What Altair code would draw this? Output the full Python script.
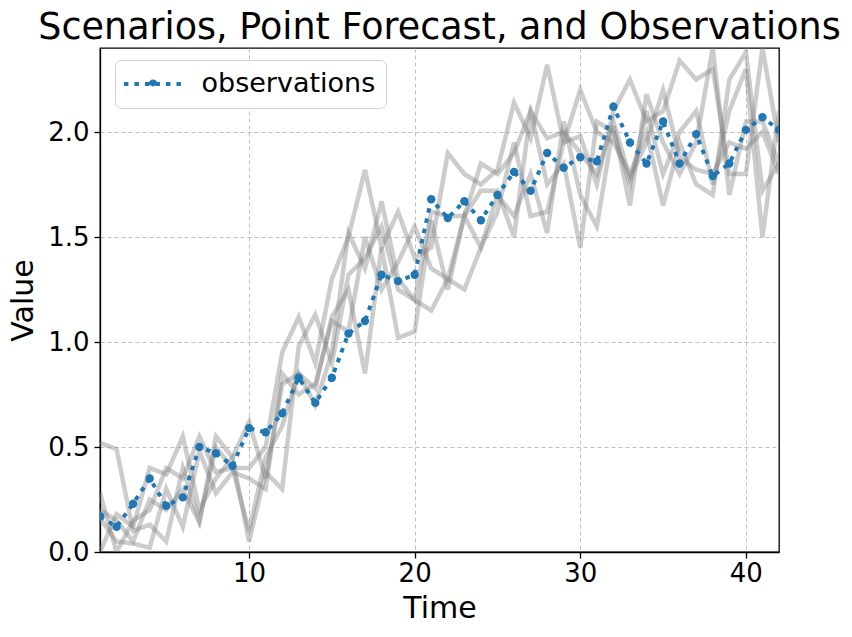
import altair as alt
import pandas as pd

time = list(range(1, 43))

observations = [0.17, 0.12, 0.23, 0.35, 0.22, 0.26, 0.50, 0.47, 0.41, 0.59,
                0.57, 0.66, 0.83, 0.71, 0.83, 1.04, 1.10, 1.32, 1.29, 1.32,
                1.68, 1.59, 1.67, 1.58, 1.70, 1.81, 1.72, 1.90, 1.83, 1.88,
                1.86, 2.12, 1.95, 1.85, 2.05, 1.85, 1.99, 1.79, 1.85, 2.01,
                2.07, 2.01]

scenario_1 = [0.52, 0.49, 0.10, 0.13, 0.05, 0.40, 0.15, 0.50, 0.40, 0.10,
              0.45, 0.60, 0.85, 0.70, 0.95, 1.52, 1.35, 1.67, 1.30, 1.20,
              1.62, 1.60, 1.60, 1.85, 1.80, 1.90, 2.10, 1.75, 1.85, 1.45,
              2.05, 2.00, 1.75, 2.10, 1.80, 2.00, 2.10, 1.75, 2.10, 2.30,
              1.50, 2.10]
scenario_2 = [0.28, 0.00, 0.15, 0.20, 0.40, 0.35, 0.55, 0.38, 0.40, 0.40,
              0.50, 0.95, 1.12, 0.90, 1.30, 1.50, 1.82, 1.45, 1.62, 1.40,
              1.45, 1.90, 1.80, 1.75, 1.82, 2.14, 1.97, 2.32, 1.95, 1.98,
              1.75, 2.10, 2.25, 2.05, 2.10, 2.34, 2.25, 2.30, 1.80, 1.80,
              2.40, 1.95]
scenario_3 = [0.20, 0.15, 0.05, 0.25, 0.20, 0.30, 0.14, 0.55, 0.45, 0.62,
              0.35, 0.80, 0.85, 0.78, 1.12, 1.25, 0.85, 1.45, 1.02, 1.05,
              1.58, 1.25, 1.60, 1.45, 1.70, 1.60, 1.80, 1.52, 2.05, 1.70,
              1.55, 2.03, 1.65, 2.18, 1.95, 1.80, 1.95, 2.40, 1.70, 2.05,
              2.05, 1.85]
scenario_4 = [0.00, 0.18, 0.12, 0.40, 0.37, 0.55, 0.20, 0.35, 0.45, 0.05,
              0.38, 0.30, 0.98, 1.13, 0.90, 1.32, 1.40, 1.55, 1.25, 1.20,
              1.15, 1.30, 1.25, 1.45, 1.62, 1.95, 1.60, 1.62, 1.95, 2.20,
              2.00, 1.95, 1.80, 2.00, 1.65, 1.95, 1.75, 1.70, 2.25, 2.38,
              1.72, 1.85]
scenario_5 = [0.16, 0.05, 0.04, 0.02, 0.30, 0.12, 0.48, 0.28, 0.38, 0.35,
              0.30, 0.85, 0.75, 0.80, 1.10, 1.05, 1.50, 1.25, 1.38, 1.55,
              1.35, 1.30, 1.60, 1.72, 1.72, 1.50, 2.10, 1.97, 2.00, 1.90,
              1.80, 2.05, 1.78, 1.95, 2.20, 1.88, 1.82, 1.80, 1.95, 1.92,
              2.00, 1.80]

scenarios = [scenario_1, scenario_2, scenario_3, scenario_4, scenario_5]

rows = []
for i, s in enumerate(scenarios):
    for t, v in zip(time, s):
        rows.append({"Time": t, "Value": v, "scenario": f"s{i+1}"})
scen_df = pd.DataFrame(rows)
obs_df = pd.DataFrame({"Time": time, "Value": observations, "series": "observations"})

FONT = "DejaVu Sans"
x_scale = alt.Scale(domain=[1, 42], nice=False, zero=False)
y_scale = alt.Scale(domain=[0, 2.4], nice=False)

x_axis = alt.Axis(values=[10, 20, 30, 40], title="Time", grid=True,
                  labelPadding=2, titlePadding=7)
y_axis = alt.Axis(values=[0, 0.5, 1.0, 1.5, 2.0], format=".1f", title="Value",
                  grid=True, labelPadding=5, titlePadding=9)

scen = alt.Chart(scen_df).mark_line(
    color="gray", opacity=0.4, strokeWidth=4.5, clip=True
).encode(
    x=alt.X("Time:Q", scale=x_scale, axis=x_axis),
    y=alt.Y("Value:Q", scale=y_scale, axis=y_axis),
    detail="scenario:N",
)

legend_path = ("M-2.6,0H2.6 M0,-0.22 A0.22,0.22 0 1,1 0,0.22 "
               "A0.22,0.22 0 1,1 0,-0.22 Z")

obs_line = alt.Chart(obs_df).mark_line(
    strokeWidth=4, strokeDash=[4.5, 6], strokeCap="butt", clip=True
).encode(
    x="Time:Q",
    y="Value:Q",
    color=alt.Color(
        "series:N",
        scale=alt.Scale(domain=["observations"], range=["#1f77b4"]),
        legend=alt.Legend(
            title=None,
            orient="none",
            legendX=15,
            legendY=12,
            labelFont=FONT,
            labelFontSize=27,
            labelLimit=400,
            labelColor="black",
            symbolType=legend_path,
            symbolSize=500,
            symbolStrokeWidth=4,
            symbolDash=[4.5, 6],
            symbolFillColor="#1f77b4",
            symbolStrokeColor="#1f77b4",
            symbolOffset=14,
            labelOffset=35,
            padding=10.5,
            cornerRadius=6,
            strokeColor="#d0d0d0",
            fillColor="white",
        ),
    ),
)

obs_pts = alt.Chart(obs_df).mark_circle(
    size=70, opacity=1, color="#1f77b4", clip=True
).encode(x="Time:Q", y="Value:Q")

chart = alt.layer(scen, obs_line, obs_pts).properties(
    width=679,
    height=504,
    title=alt.TitleParams(
        "Scenarios, Point Forecast, and Observations",
        font=FONT, fontSize=36.5, fontWeight="normal", color="black",
        anchor="middle", offset=2,
    ),
    autosize=alt.AutoSizeParams(type="none"),
    padding={"left": 92, "top": 40, "right": 65, "bottom": 77},
).configure_view(
    stroke="black", strokeWidth=1.3
).configure_axis(
    labelFont=FONT, labelFontSize=26, labelColor="black",
    titleFont=FONT, titleFontSize=30, titleFontWeight="normal", titleColor="black",
    domainColor="black", domainWidth=1.3, tickColor="black", tickSize=6, tickWidth=1.3,
    gridColor="#b0b0b0", gridDash=[4, 3], gridWidth=1, gridOpacity=0.8,
)

chart.save("out.html", embed_options={"renderer": "svg", "actions": False})
